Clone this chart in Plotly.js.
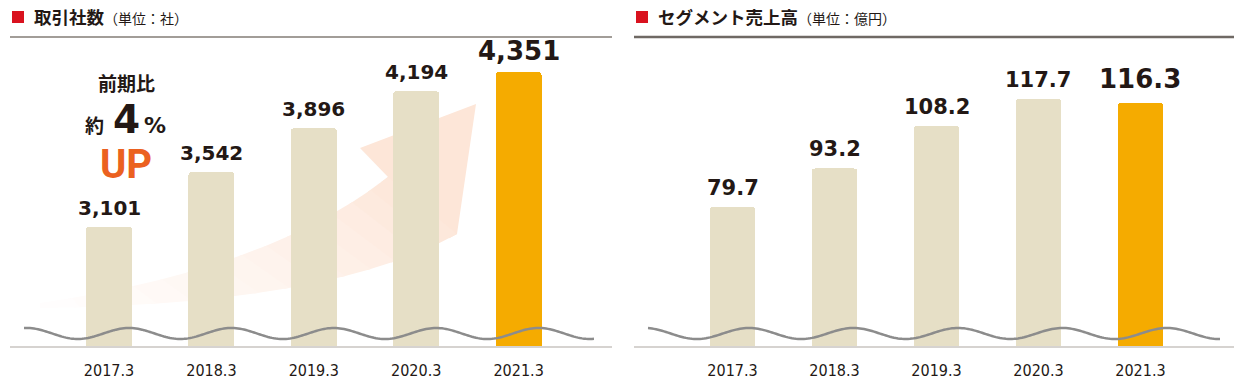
<!DOCTYPE html>
<html><head><meta charset="utf-8">
<script src="https://cdn.plot.ly/plotly-3.0.1.min.js"></script>
<style>html,body{margin:0;padding:0;background:#fff}#chart{width:1244px;height:388px}</style>
</head><body><div id="chart"></div>
<script>
const periods = ['2017.3','2018.3','2019.3','2020.3','2021.3'];
const clientCounts = [3101, 3542, 3896, 4194, 4351];
const clientLabels = ['3,101','3,542','3,896','4,194','4,351'];
const segmentSales = [79.7, 93.2, 108.2, 117.7, 116.3];
const salesLabels = ['79.7','93.2','108.2','117.7','116.3'];
const barColors = ['#e6dfc6','#e6dfc6','#e6dfc6','#e6dfc6','#f5ab00'];

const W = 1244, H = 388;
const px = x => x / W, py = y => 1 - y / H;
const INK = '#231815';
const NUMFONT = 'DejaVu Sans, Verdana, sans-serif';
const JPFONT = 'Noto Sans CJK JP, sans-serif';
const TICKFONT = 'Liberation Sans Narrow, DejaVu Sans Condensed, Roboto Condensed, Roboto, sans-serif';

const traces = [
  {type:'bar', x: periods, y: clientCounts, xaxis:'x', yaxis:'y', width:0.45,
   marker:{color: barColors, cornerradius: 4, line:{width:0}}, hoverinfo:'none'},
  {type:'bar', x: periods, y: segmentSales, xaxis:'x2', yaxis:'y2', width:0.45,
   marker:{color: barColors, cornerradius: 4, line:{width:0}}, hoverinfo:'none'}
];

const annotations = [];
periods.forEach((p, i) => {
  const last = i === periods.length - 1;
  annotations.push({xref:'x', yref:'y', x:i, y:clientCounts[i], text:'<b>'+clientLabels[i]+'</b>',
    showarrow:false, yanchor:'bottom', yshift: last ? 4 : 5,
    font:{family:NUMFONT, size: last ? 26 : 20, color:INK}});
  annotations.push({xref:'x2', yref:'y2', x:i, y:segmentSales[i], text:'<b>'+salesLabels[i]+'</b>',
    showarrow:false, yanchor:'bottom', yshift: last ? 7 : 5,
    font:{family:NUMFONT, size: last ? 26 : 21, color:INK}});
});
// titles
annotations.push({xref:'paper', yref:'paper', x:px(32), y:py(17), xanchor:'left', yanchor:'middle', showarrow:false,
  text:'<b>取引社数</b><span style="font-size:14px">（単位：社）</span>', font:{family:JPFONT, size:17.5, color:INK}});
annotations.push({xref:'paper', yref:'paper', x:px(656), y:py(17), xanchor:'left', yanchor:'middle', showarrow:false,
  text:'<b>セグメント売上高</b><span style="font-size:14px">（単位：億円）</span>', font:{family:JPFONT, size:17.5, color:INK}});
// callout
annotations.push({xref:'paper', yref:'paper', x:px(126), y:py(82), xanchor:'center', yanchor:'middle', showarrow:false,
  text:'<b>前期比</b>', font:{family:JPFONT, size:19, color:INK}});
annotations.push({xref:'paper', yref:'paper', x:px(94), y:py(125), xanchor:'center', yanchor:'middle', showarrow:false,
  text:'<b>約</b>', font:{family:JPFONT, size:19, color:INK}});
annotations.push({xref:'paper', yref:'paper', x:px(126), y:py(119), xanchor:'center', yanchor:'middle', showarrow:false,
  text:'<b>4</b>', font:{family:NUMFONT, size:39, color:INK}});
annotations.push({xref:'paper', yref:'paper', x:px(155), y:py(126), xanchor:'center', yanchor:'middle', showarrow:false,
  text:'<b>%</b>', font:{family:NUMFONT, size:22, color:INK}});
annotations.push({xref:'paper', yref:'paper', x:px(126), y:py(164), xanchor:'center', yanchor:'middle', showarrow:false,
  text:'<b>UP</b>', font:{family:'Roboto, sans-serif', size:40, color:'#eb6120'}});

const shapes = [];
// red squares
[12, 636].forEach(x0 => shapes.push({type:'rect', xref:'paper', yref:'paper', x0:px(x0), x1:px(x0+12), y0:py(23), y1:py(11),
  fillcolor:'#d9121f', line:{width:0}}));
// separator lines
shapes.push({type:'line', xref:'paper', yref:'paper', x0:px(10), x1:px(612), y0:py(37), y1:py(37), line:{color:'#a29d98', width:2}});
shapes.push({type:'line', xref:'paper', yref:'paper', x0:px(634), x1:px(1234), y0:py(37), y1:py(37), line:{color:'#6f6964', width:2.5}});

// arrow (decoration)
function qb(p0, c, p2, t){ const u = 1 - t; return [u*u*p0[0] + 2*u*t*c[0] + t*t*p2[0], u*u*p0[1] + 2*u*t*c[1] + t*t*p2[1]]; }
const U0 = [388,177], UC = [270,270], U2 = [40,303];
const L0 = [457,234], LC = [330,305], L2 = [40,308];
const toP = p => px(p[0]).toFixed(5) + ',' + py(p[1]).toFixed(5);
shapes.push({type:'path', xref:'paper', yref:'paper', layer:'below', line:{width:0}, fillcolor:'rgb(253,230,216)',
  path:'M' + toP([476,104]) + ' L' + toP([360,148]) + ' L' + toP(U0) + ' L' + toP(qb(U0,UC,U2,0.03)) + ' L' + toP(qb(L0,LC,L2,0.03)) + ' L' + toP(L0) + ' Z'});
const N = 14;
for (let i = 0; i < N; i++) {
  const t0 = i / N, t1 = (i + 1.15) / N;
  const a = qb(U0,UC,U2,t0), b = qb(U0,UC,U2,Math.min(t1,1)), c = qb(L0,LC,L2,Math.min(t1,1)), d = qb(L0,LC,L2,t0);
  const f = Math.pow((i + 0.5) / N, 0.8);
  const col = 'rgb(' + Math.round(253 + 2*f) + ',' + Math.round(230 + 24*f) + ',' + Math.round(216 + 38*f) + ')';
  shapes.push({type:'path', xref:'paper', yref:'paper', layer:'below', line:{width:0}, fillcolor:col,
    path:'M' + toP(a) + ' L' + toP(b) + ' L' + toP(c) + ' L' + toP(d) + ' Z'});
}

// break waves (decoration)
function wave(xs, xe, peak, period){
  let d = '';
  for (let x = xs; x <= xe + 0.01; x += 2) {
    const y = 333.5 - 5.5 * Math.cos(2 * Math.PI * (x - peak) / period);
    d += (d ? ' L' : 'M') + toP([x, y]);
  }
  return d;
}
shapes.push({type:'path', xref:'paper', yref:'paper', layer:'above', line:{color:'#8c8c8c', width:2.5}, path: wave(24, 595, 129, 102.4)});
shapes.push({type:'path', xref:'paper', yref:'paper', layer:'above', line:{color:'#8c8c8c', width:2.5}, path: wave(648, 1220, 749, 104.5)});

const xbase = {type:'category', showgrid:false, zeroline:false, showline:true, linecolor:'#d6d3d0', linewidth:1.5,
  ticks:'', ticklabelstandoff:9, tickfont:{family:TICKFONT, size:16, color:INK}, fixedrange:true};
const ybase = {showgrid:false, zeroline:false, showline:false, showticklabels:false, ticks:'', fixedrange:true,
  domain:[py(346), py(40)]};

const layout = {
  width:W, height:H, autosize:false, margin:{l:0, r:0, t:0, b:0},
  paper_bgcolor:'#ffffff', plot_bgcolor:'rgba(0,0,0,0)', showlegend:false, bargap:0,
  xaxis: Object.assign({}, xbase, {domain:[px(10), px(612)], range:[-0.967, 4.912], anchor:'y'}),
  yaxis: Object.assign({}, ybase, {range:[2137, 4606], anchor:'x'}),
  xaxis2: Object.assign({}, xbase, {domain:[px(634), px(1234)], range:[-0.966, 4.917], anchor:'y2'}),
  yaxis2: Object.assign({}, ybase, {range:[30.6, 138.47], anchor:'x2'}),
  annotations, shapes
};
Plotly.newPlot('chart', traces, layout, {staticPlot:true, displayModeBar:false});
</script></body></html>
